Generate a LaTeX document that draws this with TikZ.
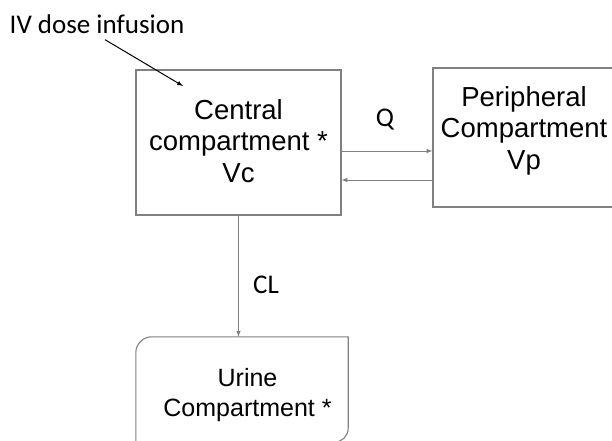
\documentclass[tikz,border=0pt]{standalone}
\usepackage{fontspec}
\setmainfont{Liberation Sans}
\newfontfamily\calfont{Carlito}
\usepackage{tikz}
\definecolor{boxgray}{RGB}{128,128,128}
\tikzset{
	cbox/.style={draw=boxgray,line width=1.1pt,minimum width=#1},
	boxtext/.style={align=center,font=\fontsize{27.5}{31.5}\selectfont,inner sep=0pt},
	flowlabel/.style={font=\calfont\fontsize{27}{30}\selectfont,inner sep=0pt},
	flow/.style={->,>=latex,draw=boxgray,line width=1pt},
}
\begin{document}
\begin{tikzpicture}[x=1pt,y=-1pt]
	\useasboundingbox (0,0) rectangle (612,440);
	%boxes
	\node[cbox=205pt,minimum height=145pt] (central) at (238.5,142.5) {};	%central
	\node[cbox=181pt,minimum height=139pt] (periph) at (523.5,137.5) {};	%peripheral
	\node[minimum width=212pt,minimum height=105pt,inner sep=0pt] (urine) at (242,389.5) {};	%urine
	\draw[boxgray,line width=1.1pt] (urine.south west) [rounded corners=16pt] -- (urine.north west) [sharp corners] -- (urine.north east) [rounded corners=14pt] -- (urine.south east) [sharp corners] -- cycle;
	
	%box texts
	\node[boxtext] (centraltext) at (238.5,141) {Central\\compartment *\\Vc};
	\node[boxtext] (periphtext) at (524,130.5) {Peripheral\\Compartment\\Vp};
	\node[boxtext,font=\fontsize{25}{30}\selectfont] (urinetext) at (247.5,395) {Urine\\Compartment *};
	
	%connectors
	\draw[flow] ([yshift=-8.5pt]central.east) -- ([yshift=-8.5pt]central.east -| periph.west);	%Q, out
	\draw[flow] ([yshift=-37.5pt]central.east -| periph.west) -- ([yshift=-37.5pt]central.east);	%Q, back
	\draw[flow] (central.south) -- (central.south |- urine.north);	%CL
	
	%labels
	\node[flowlabel] (iv) at (97,24) {IV dose infusion};
	\node[flowlabel] (qlab) at (385,120) {Q};
	\node[flowlabel] (cllab) at (266,285) {CL};
	\coordinate (ivtip) at (183,86);
	\draw[->,>=latex,line width=1pt] ([xshift=8pt,yshift=-6pt]iv.south) -- (ivtip);	%infusion
\end{tikzpicture}
\end{document}
